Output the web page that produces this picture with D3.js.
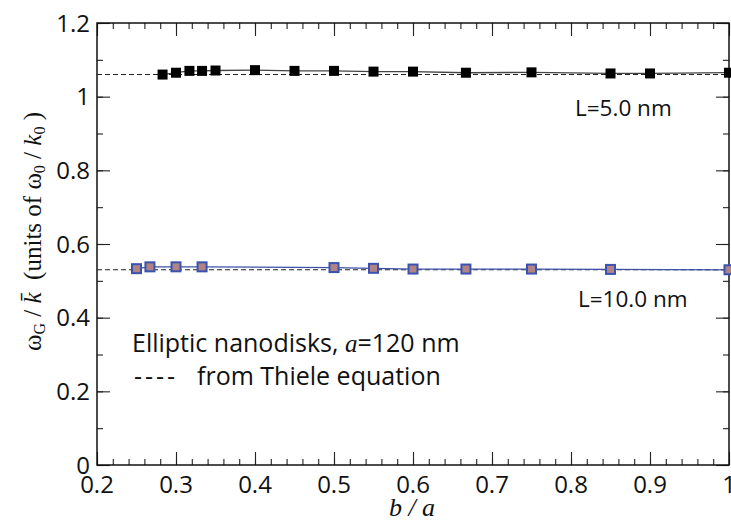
<!DOCTYPE html>
<html>
<head>
<meta charset="utf-8">
<script src="https://cdn.jsdelivr.net/npm/d3@7"></script>
<style>
  body { margin: 0; background: #fff; }
  text { fill: #111; }
</style>
</head>
<body>
<svg id="chart" width="731" height="524"></svg>
<script>
// L = 5.0 nm (black squares)
const ratioL5 = [0.283, 0.3, 0.317, 0.333, 0.35, 0.4, 0.45, 0.5, 0.55, 0.6, 0.667, 0.75, 0.85, 0.9, 1.0];
const omegaL5 = [1.060, 1.065, 1.070, 1.070, 1.071, 1.072, 1.070, 1.070, 1.068, 1.068, 1.065, 1.066, 1.063, 1.063, 1.065];
// L = 10.0 nm (blue-edged squares)
const ratioL10 = [0.25, 0.267, 0.3, 0.333, 0.5, 0.55, 0.6, 0.667, 0.75, 0.85, 1.0];
const omegaL10 = [0.533, 0.538, 0.538, 0.538, 0.536, 0.534, 0.532, 0.532, 0.532, 0.531, 0.530];
// Thiele equation values (dashed)
const thieleL5 = 1.06, thieleL10 = 0.53;

const xMajor = [0.2, 0.3, 0.4, 0.5, 0.6, 0.7, 0.8, 0.9, 1.0];
const yMajor = [0, 0.2, 0.4, 0.6, 0.8, 1.0, 1.2];

const mLeft = 97, mRight = 729, mTop = 23, mBottom = 465;

const svg = d3.select("#chart");

let x = d3.scaleLinear().domain([0.2, 1.0]).range([mLeft, mRight]);
let y = d3.scaleLinear().domain([0, 1.2]).range([mBottom, mTop]);

const fmt = d => String(+d.toFixed(1));
const xMinor = d3.range(0, 41).map(i => +(0.2 + i * 0.02).toFixed(2));
const yMinor = d3.range(0, 13).map(i => +(i * 0.1).toFixed(1));

// axes: ticks point inward on all four sides
function tickAxis(axisGen, scale, vals, size, tx, ty) {
  let g = svg.append("g")
    .attr("transform", `translate(${tx},${ty})`)
    .call(axisGen(scale).tickValues(vals).tickSize(-size).tickFormat(""));
  g.select(".domain").remove();
  g.selectAll("line").attr("stroke", "#222").attr("stroke-width", 1.1);
  return g;
}
tickAxis(d3.axisBottom, x, xMinor, 6, 0, mBottom);
tickAxis(d3.axisBottom, x, xMajor, 13, 0, mBottom);
tickAxis(d3.axisTop, x, xMinor, 6, 0, mTop);
tickAxis(d3.axisTop, x, xMajor, 13, 0, mTop);
tickAxis(d3.axisLeft, y, yMinor, 6, mLeft, 0);
tickAxis(d3.axisLeft, y, yMajor, 13, mLeft, 0);
tickAxis(d3.axisRight, y, yMinor, 6, mRight, 0);
tickAxis(d3.axisRight, y, yMajor, 13, mRight, 0);

const sans = "'Open Sans', sans-serif";
const serif = "'Liberation Serif', 'DejaVu Serif', serif";

// tick labels
svg.append("g").selectAll("text")
  .data(xMajor).join("text")
  .attr("x", d => x(d)).attr("y", 493)
  .attr("text-anchor", "middle")
  .style("font-family", sans).style("font-size", "24px")
  .text(fmt);

svg.append("g").selectAll("text")
  .data(yMajor).join("text")
  .attr("x", 90).attr("y", d => y(d)).attr("dy", "0.36em")
  .attr("text-anchor", "end")
  .style("font-family", sans).style("font-size", "24px")
  .text(fmt);

// frame
svg.append("rect")
  .attr("x", mLeft).attr("y", mTop)
  .attr("width", mRight - mLeft).attr("height", mBottom - mTop)
  .attr("fill", "none").attr("stroke", "#111").attr("stroke-width", 1.5);

// Thiele dashed lines
[thieleL5, thieleL10].forEach(v => {
  svg.append("line")
    .attr("x1", mLeft).attr("x2", mRight)
    .attr("y1", y(v)).attr("y2", y(v))
    .attr("stroke", "#222").attr("stroke-width", 1.1)
    .attr("stroke-dasharray", "5,3");
});

const line = d3.line().x(d => x(d[0])).y(d => y(d[1]));
const ptsL5 = ratioL5.map((r, i) => [r, omegaL5[i]]);
const ptsL10 = ratioL10.map((r, i) => [r, omegaL10[i]]);

svg.append("path").datum(ptsL10).attr("d", line)
  .attr("fill", "none").attr("stroke", "#3c50a8").attr("stroke-width", 1.3);
svg.append("path").datum(ptsL5).attr("d", line)
  .attr("fill", "none").attr("stroke", "#444").attr("stroke-width", 1.3);

let s5 = 10;
svg.append("g").selectAll("rect")
  .data(ptsL5).join("rect")
  .attr("x", d => x(d[0]) - s5 / 2).attr("y", d => y(d[1]) - s5 / 2)
  .attr("width", s5).attr("height", s5)
  .attr("fill", "#000");

let s10 = 9;
svg.append("g").selectAll("rect")
  .data(ptsL10).join("rect")
  .attr("x", d => x(d[0]) - s10 / 2).attr("y", d => y(d[1]) - s10 / 2)
  .attr("width", s10).attr("height", s10)
  .attr("fill", "#b08484").attr("stroke", "#3a52b0").attr("stroke-width", 2);

// series labels
svg.append("text").attr("x", 575).attr("y", 116)
  .style("font-family", sans).style("font-size", "22.5px").text("L=5.0 nm");
svg.append("text").attr("x", 578).attr("y", 307)
  .style("font-family", sans).style("font-size", "22.5px").text("L=10.0 nm");

// legend text
let t1 = svg.append("text").attr("x", 132).attr("y", 352)
  .style("font-family", sans).style("font-size", "25px");
t1.append("tspan").text("Elliptic nanodisks, ");
t1.append("tspan").style("font-family", serif).style("font-style", "italic").text("a");
t1.append("tspan").text("=120 nm");

svg.append("text").attr("x", 134).attr("y", 385)
  .style("font-family", sans).style("font-size", "25px")
  .attr("textLength", 41).attr("lengthAdjust", "spacing")
  .text("- - - -");
svg.append("text").attr("x", 197).attr("y", 385)
  .style("font-family", sans).style("font-size", "25px")
  .text("from Thiele equation");

// axis titles
svg.append("text")
  .attr("x", 412).attr("y", 516)
  .attr("text-anchor", "middle")
  .style("font-family", serif).style("font-size", "26px").style("font-style", "italic")
  .text("b / a");

let yl = svg.append("text")
  .attr("transform", `translate(41,${(100 + 363) / 2}) rotate(-90)`)
  .attr("text-anchor", "middle")
  .style("font-family", serif).style("font-size", "25px");
yl.append("tspan").text("ω");
yl.append("tspan").attr("baseline-shift", "-25%").style("font-size", "16px").text("G");
yl.append("tspan").text(" / ");
yl.append("tspan").style("font-style", "italic").text("k\u0304");
yl.append("tspan").text("\u2002(units of ω");
yl.append("tspan").attr("baseline-shift", "-25%").style("font-size", "16px").text("0");
yl.append("tspan").text(" / ");
yl.append("tspan").style("font-style", "italic").text("k");
yl.append("tspan").attr("baseline-shift", "-25%").style("font-size", "16px").text("0");
yl.append("tspan").text(" )");
</script>
</body>
</html>
